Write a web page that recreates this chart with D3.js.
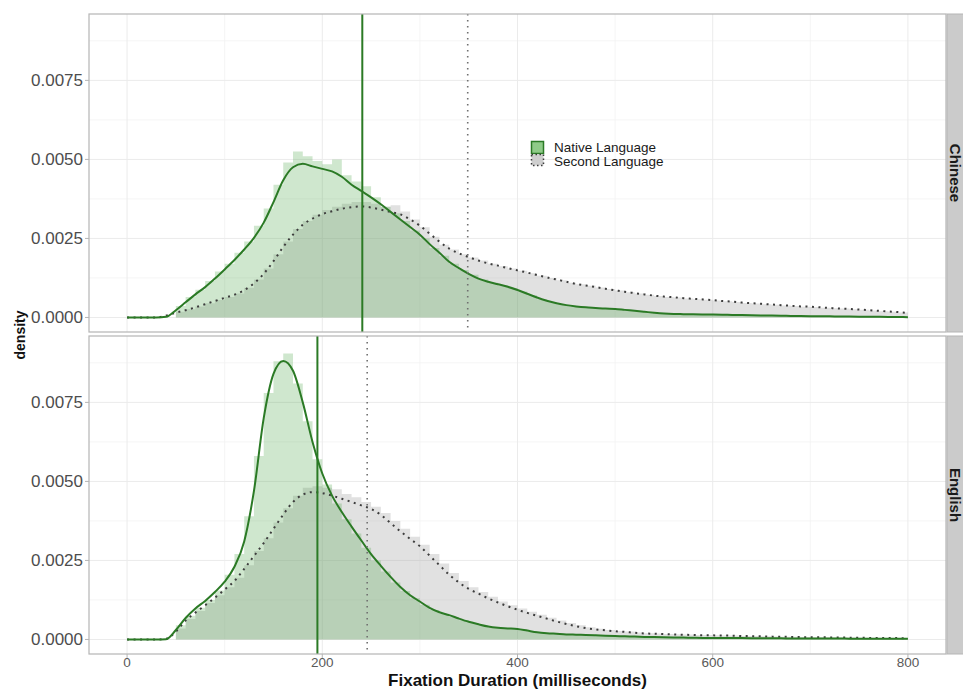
<!DOCTYPE html>
<html>
<head>
<meta charset="utf-8">
<script src="https://cdn.jsdelivr.net/npm/d3@7"></script>
<style>
  html, body { margin: 0; padding: 0; background: #fff; }
  svg { display: block; font-family: "Liberation Sans", Arial, sans-serif; }
</style>
</head>
<body>
<div id="chart"></div>
<script>
// Fixation duration densities, faceted by language
// all densities are stored as density x 10^4

var languages = ['Chinese', 'English'];
var groups = ['Native Language', 'Second Language'];

// kernel density curves, sampled every 10 ms from 0 to 800
var densityChineseNative = [
  0, 0, 0, 0, 0.2, 2.3, 4.8, 7.3, 9.6, 12.3,
  15.2, 18.2, 21.5, 25.2, 30, 36.5, 43.4, 47.5, 48.6, 47.8,
  47.0, 46.2, 44.5, 42, 40, 38, 35.8, 33.4, 31, 28.6,
  26.2, 23.2, 20.5, 17.6, 15.6, 13.8, 12.3, 11.3, 10.5, 9.7,
  8.7, 7.5, 6.3, 5.3, 4.5, 3.9, 3.5, 3.2, 3.0, 2.8,
  2.7, 2.4, 2.1, 1.8, 1.5, 1.25, 1.1, 1.05, 1.0, 0.95,
  0.9, 0.85, 0.8, 0.75, 0.7, 0.65, 0.6, 0.55, 0.5, 0.46,
  0.42, 0.38, 0.35, 0.32, 0.28, 0.25, 0.22, 0.2, 0.17, 0.14,
  0.1
];
var densityChineseSecond = [
  0, 0, 0, 0, 0.6, 1.5, 2.3, 3.2, 4.2, 5.2,
  6.2, 7.2, 8.6, 10.8, 13.8, 17.8, 22.3, 26.2, 29.3, 31.3,
  32.7, 33.6, 34.4, 34.9, 35.1, 34.8, 34.1, 33.4, 32.6, 31,
  29, 26.5, 24, 21.8, 20.3, 19.1, 18, 17.1, 16.4, 15.6,
  14.9, 14.2, 13.4, 12.7, 12, 11.3, 10.6, 10.1, 9.6, 9.1,
  8.6, 8.1, 7.7, 7.3, 6.9, 6.6, 6.4, 6.1, 5.9, 5.7,
  5.5, 5.2, 5.0, 4.7, 4.5, 4.3, 4.1, 3.9, 3.7, 3.5,
  3.4, 3.2, 3.0, 2.8, 2.7, 2.5, 2.3, 2.1, 1.9, 1.7,
  1.4
];
var densityEnglishNative = [
  0, 0, 0, 0, 0.1, 3, 6.8, 9.8, 12.2, 15,
  18.3, 23, 31, 47, 70, 84, 88.1, 85, 75, 62.5,
  52.5, 45.5, 40.3, 35.7, 31.3, 27, 23.3, 19.8, 16.6, 14,
  12, 10, 8.6, 7.7, 6.6, 5.6, 4.8, 4.1, 3.7, 3.5,
  3.3, 2.8, 2.3, 2.0, 1.8, 1.6, 1.5, 1.4, 1.3, 1.2,
  1.1, 1.0, 0.9, 0.8, 0.75, 0.7, 0.65, 0.6, 0.55, 0.5,
  0.5, 0.48, 0.45, 0.43, 0.4, 0.38, 0.36, 0.35, 0.33, 0.32,
  0.3, 0.29, 0.28, 0.27, 0.26, 0.25, 0.24, 0.23, 0.22, 0.21,
  0.2
];
var densityEnglishSecond = [
  0, 0, 0, 0, 0.2, 2.5, 6, 8.5, 10.8, 13.2,
  15.8, 18.5, 22.3, 26.4, 30.5, 35, 39.5, 43.5, 45.8, 46.6,
  46.3, 45.5, 44.5, 43.5, 42.4, 41.3, 39.4, 36.8, 34.2, 31.8,
  29.5, 26.5, 23.5, 20.5, 18, 16, 14.5, 13, 11.7, 10.5,
  9.4, 8.4, 7.5, 6.6, 5.7, 4.9, 4.2, 3.6, 3.2, 2.9,
  2.6, 2.4, 2.1, 1.9, 1.8, 1.7, 1.6, 1.5, 1.4, 1.35,
  1.3, 1.25, 1.2, 1.1, 1.05, 1.0, 0.9, 0.85, 0.8, 0.75,
  0.7, 0.68, 0.65, 0.6, 0.58, 0.55, 0.5, 0.48, 0.45, 0.42,
  0.4
];

// histogram heights, 10 ms bins starting at 0, 10, ... 790
var histChineseNative = [
  0, 0, 0, 0, 0, 3.6, 6.5, 8.8, 11.5, 14.5,
  17, 20.5, 24, 29, 34.5, 42, 49, 52.5, 51, 49.5,
  48.5, 50, 45, 43, 41.5, 38, 35, 33, 30.5, 27.5,
  25, 22, 19.5, 17, 15, 13.5, 12, 11, 10.2, 9.3,
  8.2, 7, 5.8, 4.9, 4.2, 3.7, 3.4, 3.1, 2.9, 2.8,
  2.6, 2.3, 2.0, 1.7, 1.4, 1.2, 1.1, 1.0, 1.0, 0.9,
  0.9, 0.8, 0.8, 0.7, 0.7, 0.6, 0.6, 0.5, 0.5, 0.45,
  0.4, 0.38, 0.35, 0.3, 0.28, 0.25, 0.22, 0.2, 0.17, 0.15
];
var histChineseSecond = [
  0, 0, 0, 0, 0, 1.8, 2.6, 3.5, 4.5, 5.5,
  6.5, 7.6, 9.4, 12, 15.5, 20, 24, 28, 30.5, 32.5,
  34, 35, 36, 36.5, 36.5, 36, 35, 35.5, 33.5, 31,
  28.5, 25.5, 23, 21.5, 20, 19, 18, 17, 16.2, 15.5,
  14.8, 14, 13.2, 12.5, 11.8, 11, 10.5, 10, 9.5, 9,
  8.5, 8, 7.6, 7.2, 6.8, 6.5, 6.3, 6, 5.8, 5.6,
  5.4, 5.1, 4.9, 4.6, 4.4, 4.2, 4, 3.8, 3.6, 3.4,
  3.3, 3.1, 2.9, 2.8, 2.6, 2.4, 2.2, 2, 1.8, 1.6
];
var histEnglishNative = [
  0, 0, 0, 0, 0, 4.5, 7.5, 10, 12.5, 15.5,
  20.5, 27, 39, 58, 78, 88, 90.5, 81, 69, 57,
  49, 43, 38, 33.5, 29, 25, 21.5, 18, 15.3, 13,
  11, 9.3, 8.1, 7.1, 6.1, 5.2, 4.4, 3.9, 3.6, 3.4,
  3.1, 2.6, 2.2, 1.9, 1.7, 1.6, 1.5, 1.4, 1.3, 1.2,
  1.1, 1.0, 0.9, 0.8, 0.75, 0.7, 0.65, 0.6, 0.55, 0.5,
  0.5, 0.45, 0.45, 0.4, 0.4, 0.38, 0.35, 0.35, 0.33, 0.3,
  0.3, 0.28, 0.27, 0.26, 0.25, 0.24, 0.23, 0.22, 0.21, 0.2
];
var histEnglishSecond = [
  0, 0, 0, 0, 0, 3.5, 6.5, 9, 11.5, 14,
  16.5, 19.5, 23.5, 28, 32, 37, 41.5, 45.5, 48, 48.5,
  48, 47.5, 46, 45, 43.5, 42, 40, 37.5, 35, 32.5,
  30, 27, 24, 21, 18.5, 16.5, 15, 13.5, 12, 10.8,
  9.8, 8.8, 7.8, 6.9, 6, 5.2, 4.5, 3.9, 3.4, 3,
  2.7, 2.5, 2.2, 2.0, 1.85, 1.75, 1.65, 1.55, 1.45, 1.38,
  1.32, 1.27, 1.22, 1.12, 1.07, 1.02, 0.92, 0.87, 0.82, 0.77,
  0.72, 0.69, 0.66, 0.62, 0.59, 0.56, 0.52, 0.49, 0.46, 0.43
];

// mean fixation duration per facet (ms)
var meanNative = [241, 195];
var meanSecond = [349, 246];

var xTicks = [0, 200, 400, 600, 800];
var xMinor = [100, 300, 500, 700];
var yTicks = [0, 25, 50, 75];
var yTickLabels = ['0.0000', '0.0025', '0.0050', '0.0075'];
var yMinor = [12.5, 37.5, 62.5, 87.5];

(function() {
  'use strict';

  var width = 963, height = 690;
  var panelLeft = 89, panelRight = 946;
  var panelTops = [14, 336], panelH = 318;

  var nativeLine = '#2b7a25';
  var secondLine = '#3d3d3d';

  var densities = [
    [densityChineseNative, densityChineseSecond],
    [densityEnglishNative, densityEnglishSecond]
  ];
  var hists = [
    [histChineseNative, histChineseSecond],
    [histEnglishNative, histEnglishSecond]
  ];

  var svg = d3.select('#chart')
    .append('svg')
    .attr('width', width)
    .attr('height', height);

  var x = d3.scaleLinear().domain([-39, 839]).range([panelLeft, panelRight]);
  var gridMs = d3.range(0, 801, 10);

  languages.forEach(function(lang, i) {
    var top = panelTops[i], bottom = top + panelH;
    var y = d3.scaleLinear().domain([-4.6, 96]).range([bottom, top]);

    var clipId = 'clip-' + lang;
    svg.append('clipPath').attr('id', clipId)
      .append('rect')
      .attr('x', panelLeft).attr('y', top)
      .attr('width', panelRight - panelLeft).attr('height', panelH);

    var g = svg.append('g').attr('clip-path', 'url(#' + clipId + ')');

    // grid
    g.selectAll('.vminor').data(xMinor).enter().append('line')
      .attr('x1', function(d) { return x(d); }).attr('x2', function(d) { return x(d); })
      .attr('y1', top).attr('y2', bottom)
      .attr('stroke', '#f3f3f3').attr('stroke-width', 0.8);
    g.selectAll('.hminor').data(yMinor).enter().append('line')
      .attr('x1', panelLeft).attr('x2', panelRight)
      .attr('y1', function(d) { return y(d); }).attr('y2', function(d) { return y(d); })
      .attr('stroke', '#f3f3f3').attr('stroke-width', 0.8);
    g.selectAll('.vmajor').data(xTicks).enter().append('line')
      .attr('x1', function(d) { return x(d); }).attr('x2', function(d) { return x(d); })
      .attr('y1', top).attr('y2', bottom)
      .attr('stroke', '#ebebeb').attr('stroke-width', 1);
    g.selectAll('.hmajor').data(yTicks).enter().append('line')
      .attr('x1', panelLeft).attr('x2', panelRight)
      .attr('y1', function(d) { return y(d); }).attr('y2', function(d) { return y(d); })
      .attr('stroke', '#ebebeb').attr('stroke-width', 1);

    // histograms (second language underneath, native on top)
    var histArea = d3.area()
      .x(function(d) { return x(d[0]); })
      .y0(y(0))
      .y1(function(d) { return y(d[1]); })
      .curve(d3.curveStepAfter);

    function histPoints(h) {
      var pts = h.map(function(v, k) { return [gridMs[k], v]; });
      pts.push([800, h[h.length - 1]]);
      return pts;
    }

    g.append('path')
      .datum(histPoints(hists[i][1]))
      .attr('d', histArea)
      .attr('fill', '#9a9a9a')
      .attr('fill-opacity', 0.3);
    g.append('path')
      .datum(histPoints(hists[i][0]))
      .attr('fill', '#3f9e3a')
      .attr('fill-opacity', 0.25)
      .attr('d', histArea);

    // density curves
    var line = d3.line()
      .x(function(d, k) { return x(gridMs[k]); })
      .y(function(d) { return y(d); })
      .curve(d3.curveMonotoneX);

    g.append('path')
      .datum(densities[i][1])
      .attr('d', line)
      .attr('fill', 'none')
      .attr('stroke', secondLine)
      .attr('stroke-width', 2)
      .attr('stroke-dasharray', '2,4.5');
    g.append('path')
      .datum(densities[i][0])
      .attr('d', line)
      .attr('fill', 'none')
      .attr('stroke', nativeLine)
      .attr('stroke-width', 2);

    // mean lines
    g.append('line')
      .attr('x1', x(meanSecond[i])).attr('x2', x(meanSecond[i]))
      .attr('y1', top).attr('y2', bottom)
      .attr('stroke', '#707070')
      .attr('stroke-width', 1.6)
      .attr('stroke-dasharray', '1.6,4.4');
    g.append('line')
      .attr('x1', x(meanNative[i])).attr('x2', x(meanNative[i]))
      .attr('y1', top).attr('y2', bottom)
      .attr('stroke', nativeLine)
      .attr('stroke-width', 2);

    // panel border
    svg.append('rect')
      .attr('x', panelLeft).attr('y', top)
      .attr('width', panelRight - panelLeft).attr('height', panelH)
      .attr('fill', 'none')
      .attr('stroke', '#b5b5b5')
      .attr('stroke-width', 1.2);

    // y axis
    var ya = svg.append('g');
    ya.selectAll('line').data(yTicks).enter().append('line')
      .attr('x1', panelLeft - 4).attr('x2', panelLeft)
      .attr('y1', function(d) { return y(d); }).attr('y2', function(d) { return y(d); })
      .attr('stroke', '#b5b5b5').attr('stroke-width', 1);
    ya.selectAll('text').data(yTicks).enter().append('text')
      .attr('x', panelLeft - 6)
      .attr('y', function(d) { return y(d); })
      .attr('dy', '0.35em')
      .attr('text-anchor', 'end')
      .attr('font-size', '17px')
      .attr('fill', '#4d4d4d')
      .text(function(d, k) { return yTickLabels[k]; });

    // facet strip
    svg.append('rect')
      .attr('x', panelRight + 1).attr('y', top)
      .attr('width', 24).attr('height', panelH)
      .attr('fill', '#cbcbcb')
      .attr('stroke', '#b5b5b5')
      .attr('stroke-width', 1);
    svg.append('text')
      .attr('transform', 'translate(955,' + (top + panelH / 2) + ') rotate(90)')
      .attr('text-anchor', 'middle')
      .attr('dy', '0.35em')
      .attr('font-size', '15px')
      .attr('font-weight', 'bold')
      .attr('fill', '#1a1a1a')
      .text(lang);

    // x axis under the last panel
    if (i === languages.length - 1) {
      var xa = svg.append('g');
      xa.selectAll('line').data(xTicks).enter().append('line')
        .attr('x1', function(d) { return x(d); }).attr('x2', function(d) { return x(d); })
        .attr('y1', bottom).attr('y2', bottom + 4)
        .attr('stroke', '#b5b5b5');
      xa.selectAll('text').data(xTicks).enter().append('text')
        .attr('x', function(d) { return x(d); })
        .attr('y', bottom + 13)
        .attr('text-anchor', 'middle')
        .attr('font-size', '13.5px')
        .attr('fill', '#5a5a5a')
        .text(function(d) { return d; });
    }

    // legend inside the first panel
    if (i === 0) {
      var lg = svg.append('g').attr('transform', 'translate(531,141)');
      lg.append('rect')
        .attr('x', 0.5).attr('y', 0.5).attr('width', 12).attr('height', 12)
        .attr('fill', '#8fcb88')
        .attr('stroke', nativeLine).attr('stroke-width', 1.5);
      lg.append('rect')
        .attr('x', 0.5).attr('y', 13.5).attr('width', 12).attr('height', 11)
        .attr('fill', '#cfcfcf')
        .attr('stroke', secondLine).attr('stroke-width', 1.5)
        .attr('stroke-dasharray', '1.5,2.5');
      lg.selectAll('text').data(groups).enter().append('text')
        .attr('x', 23)
        .attr('y', function(d, k) { return 11 + k * 14; })
        .attr('font-size', '13.5px')
        .attr('fill', '#1a1a1a')
        .text(function(d) { return d; });
    }
  });

  // axis titles
  svg.append('text')
    .attr('x', (panelLeft + panelRight) / 2)
    .attr('y', 686)
    .attr('text-anchor', 'middle')
    .attr('font-size', '17px')
    .attr('font-weight', 'bold')
    .attr('fill', '#111')
    .text('Fixation Duration (milliseconds)');

  svg.append('text')
    .attr('transform', 'translate(25,335) rotate(-90)')
    .attr('text-anchor', 'middle')
    .attr('font-size', '14px')
    .attr('font-weight', 'bold')
    .attr('fill', '#111')
    .text('density');
})();
</script>
</body>
</html>
